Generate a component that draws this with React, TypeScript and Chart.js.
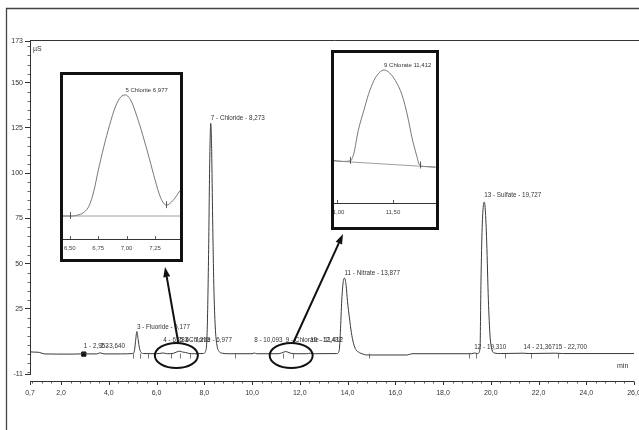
import React, { useEffect, useRef } from "react";
import { Chart, registerables } from "chart.js";

Chart.register(...registerables);

// ---------------- data ----------------
const traceTimes = [
  0.7, 0.9, 1.1, 1.3, 1.8, 2.5, 2.85, 2.953, 3.05, 3.5, 3.64, 3.8, 4.5,
  5.0, 5.07, 5.12, 5.177, 5.23, 5.29, 5.36, 5.45, 6.0, 6.283, 6.45, 6.7, 6.85,
  6.977, 7.1, 7.213, 7.35, 7.6, 7.95, 8.05, 8.12, 8.18, 8.23, 8.273, 8.31,
  8.35, 8.4, 8.46, 8.53, 8.62, 8.75, 9.0, 10.0, 10.093, 10.2, 11.1, 11.25,
  11.412, 11.55, 11.72, 12.3, 12.437, 12.6, 13.55, 13.65, 13.7, 13.76, 13.82,
  13.877, 13.94, 14.0, 14.08, 14.16, 14.25, 14.35, 14.5, 14.65, 14.8, 16.5,
  16.7, 19.2, 19.31, 19.45, 19.55, 19.59, 19.64, 19.69, 19.727, 19.77, 19.83,
  19.9, 19.97, 20.04, 20.15, 20.4, 21.367, 21.6, 22.7, 23.0, 26.0,
];
const traceValues = [
  1.2, 1.1, 0.9, 0.1, 0, 0, 0.1, 0.8, 0.1, 0.1, 0.7, 0.1, 0.1,
  0.3, 1.5, 7, 12.5, 8, 3, 0.8, 0.3, 0.2, 0.6, 0.2, 0.4, 1.2,
  1.6, 1.1, 0.9, 0.4, 0.2, 0.3, 1.5, 12, 55, 108, 127.5, 112,
  75, 38, 15, 5, 1.5, 0.5, 0.2, 0.2, 0.6, 0.2, 0.2, 0.7,
  1.4, 0.8, 0.2, 0.2, 0.5, 0.2, 0.3, 2, 12, 30, 40,
  42, 38, 29, 20, 12, 6, 2.5, 0.8, 0, -0.5, -0.5,
  0.2, 0.2, 0.6, 0.3, 3, 40, 70, 82, 84, 80, 62,
  30, 10, 3, 0.6, 0.3, 0.5, 0.3, 0.5, 0.3, 0.3,
];

const squareTimes = [2.953];
const squareValues = [0];

const yTickValues = [-11, 25, 50, 75, 100, 125, 150, 173];
const xTickValues = [0.7, 2, 4, 6, 8, 10, 12, 14, 16, 18, 20, 22, 24, 26];

const peakTimes = [2.953, 3.64, 5.177, 6.283, 6.977, 7.213, 8.273, 10.093, 11.412, 12.437, 13.877, 19.31, 19.727, 21.367, 22.7];
const peakNames = ["", "", "Fluoride", "", "Chlorite", "", "Chloride", "", "Chlorate", "", "Nitrate", "", "Sulfate", "", ""];
const peakLabelValues = [3.3, 3.3, 14, 6.6, 6.6, 6.6, 129.5, 6.6, 6.6, 6.6, 43.5, 2.7, 87, 2.7, 2.7];

const markerTimes = [5.0, 5.3, 5.65, 6.6, 7.0, 7.4, 9.3, 11.3, 11.7, 12.5, 14.9, 19.1, 19.4, 20.6, 21.7, 22.8];

const ellipseTimes = [6.83, 11.64];

// inset 1 : peak 5 (Chlorite)
const inset1Times = [6.44, 6.52, 6.58, 6.63, 6.67, 6.71, 6.75, 6.8, 6.85, 6.9, 6.95, 6.99, 7.04, 7.09, 7.14, 7.2, 7.25, 7.3, 7.35, 7.41, 7.47];
const inset1Values = [0, 0, 0.02, 0.07, 0.17, 0.4, 0.75, 1.15, 1.5, 1.8, 1.97, 2.0, 1.9, 1.65, 1.35, 0.95, 0.6, 0.3, 0.18, 0.26, 0.42];
const inset1BaseTimes = [6.44, 7.47];
const inset1BaseValues = [0, 0];
const inset1Ticks = [6.5, 6.75, 7.0, 7.25];
const inset1Markers = [6.5, 7.35];

// inset 2 : peak 9 (Chlorate)
const inset2Times = [10.96, 11.05, 11.12, 11.15, 11.19, 11.24, 11.28, 11.33, 11.38, 11.42, 11.47, 11.52, 11.58, 11.63, 11.67, 11.71, 11.74, 11.8, 11.88];
const inset2Values = [0.03, 0.01, 0.02, 0.15, 0.55, 0.9, 1.17, 1.42, 1.56, 1.6, 1.55, 1.42, 1.17, 0.8, 0.42, 0.12, -0.06, -0.08, -0.09];
const inset2BaseTimes = [10.96, 11.88];
const inset2BaseValues = [0.02, -0.09];
const inset2Ticks = [11.0, 11.5];
const inset2Markers = [11.12, 11.74];

// ---------------- layout / style ----------------
const W = 639;
const H = 430;
const FONT = "'Liberation Sans', Arial, sans-serif";
const INSET1 = { left: 60, top: 72, width: 123, height: 190, axisH: 20, xmin: 6.44, xmax: 7.47, ymin: -0.38, ymax: 2.33 };
const INSET2 = { left: 331, top: 50, width: 108, height: 180, axisH: 24, xmin: 10.973, xmax: 11.884, ymin: -0.713, ymax: 1.896 };

const fmt = (v: number, d: number) => v.toFixed(d).replace(".", ",");

function arrow(ctx: CanvasRenderingContext2D, x1: number, y1: number, x2: number, y2: number) {
  const ang = Math.atan2(y2 - y1, x2 - x1);
  const len = 10, half = 3.5;
  const bx = x2 - len * Math.cos(ang);
  const by = y2 - len * Math.sin(ang);
  ctx.beginPath();
  ctx.moveTo(x1, y1);
  ctx.lineTo(bx, by);
  ctx.stroke();
  ctx.beginPath();
  ctx.moveTo(x2, y2);
  ctx.lineTo(bx + half * Math.sin(ang), by - half * Math.cos(ang));
  ctx.lineTo(bx - half * Math.sin(ang), by + half * Math.cos(ang));
  ctx.closePath();
  ctx.fill();
}

const mainDecor = {
  id: "mainDecor",
  afterDraw(chart: any) {
    const ctx: CanvasRenderingContext2D = chart.ctx;
    const xs = chart.scales.x;
    const ys = chart.scales.y;
    const ca = chart.chartArea;
    ctx.save();
    // outer frame
    ctx.strokeStyle = "#444";
    ctx.lineWidth = 1.3;
    ctx.beginPath();
    ctx.moveTo(6.5, H);
    ctx.lineTo(6.5, 8.5);
    ctx.lineTo(W, 8.5);
    ctx.stroke();
    // plot frame top
    ctx.strokeStyle = "#333";
    ctx.lineWidth = 1;
    ctx.beginPath();
    ctx.moveTo(ca.left, ca.top - 0.5);
    ctx.lineTo(W, ca.top - 0.5);
    ctx.stroke();
    // y minor ticks
    ctx.strokeStyle = "#444";
    ctx.lineWidth = 0.8;
    for (let v = -10; v <= 170; v += 5) {
      if (yTickValues.includes(v)) continue;
      const y = Math.round(ys.getPixelForValue(v)) + 0.5;
      ctx.beginPath();
      ctx.moveTo(ca.left - 2.5, y);
      ctx.lineTo(ca.left, y);
      ctx.stroke();
    }
    // x axis line
    const ax = ca.bottom + 7.5;
    ctx.strokeStyle = "#333";
    ctx.lineWidth = 1;
    ctx.beginPath();
    ctx.moveTo(ca.left, ax);
    ctx.lineTo(ca.right, ax);
    ctx.stroke();
    xTickValues.forEach((v) => {
      const x = Math.round(xs.getPixelForValue(v)) + 0.5;
      ctx.beginPath();
      ctx.moveTo(x, ax);
      ctx.lineTo(x, ax + 3.5);
      ctx.stroke();
    });
    ctx.lineWidth = 0.8;
    for (let k = -3; k <= 60; k++) {
      if (k % 5 === 0) continue;
      const v = 2 + 0.4 * k;
      if (v < 0.7 || v > 26) continue;
      const x = Math.round(xs.getPixelForValue(v)) + 0.5;
      ctx.beginPath();
      ctx.moveTo(x, ax);
      ctx.lineTo(x, ax + 2);
      ctx.stroke();
    }
    // unit labels
    ctx.fillStyle = "#333";
    ctx.font = "7px " + FONT;
    ctx.textAlign = "left";
    ctx.textBaseline = "alphabetic";
    ctx.fillText("µS", ca.left + 3, ca.top + 10);
    ctx.fillText("min", 617, ys.getPixelForValue(-7.5));
    // integration markers
    ctx.strokeStyle = "#555";
    ctx.lineWidth = 0.8;
    markerTimes.forEach((t) => {
      const x = Math.round(xs.getPixelForValue(t)) + 0.5;
      const y0 = ys.getPixelForValue(0.3);
      ctx.beginPath();
      ctx.moveTo(x, y0);
      ctx.lineTo(x, y0 + 5);
      ctx.stroke();
    });
    // peak labels
    ctx.fillStyle = "#333";
    ctx.font = "6.3px " + FONT;
    peakTimes.forEach((t, i) => {
      const name = peakNames[i];
      const txt = name ? `${i + 1} - ${name} - ${fmt(t, 3)}` : `${i + 1} - ${fmt(t, 3)}`;
      ctx.fillText(txt, xs.getPixelForValue(t), ys.getPixelForValue(peakLabelValues[i]));
    });
    // ellipses
    ctx.strokeStyle = "#111";
    ctx.fillStyle = "#111";
    ctx.lineWidth = 2;
    const rx = 21.5, ry = 12.5;
    const centers = ellipseTimes.map((t) => ({ x: xs.getPixelForValue(t), y: ys.getPixelForValue(-0.8) }));
    centers.forEach((c) => {
      ctx.beginPath();
      ctx.ellipse(c.x, c.y, rx, ry, 0, 0, Math.PI * 2);
      ctx.stroke();
    });
    // arrows to insets
    arrow(ctx, centers[0].x + 2, centers[0].y - ry, INSET1.left + 105, INSET1.top + INSET1.height + 5);
    arrow(ctx, centers[1].x + 2, centers[1].y - ry, INSET2.left + 12, INSET2.top + INSET2.height + 4);
    ctx.restore();
  },
};

function makeInset(
  canvas: HTMLCanvasElement,
  cfg: any,
  times: number[],
  values: number[],
  baseTimes: number[],
  baseValues: number[],
  ticks: number[],
  markers: number[],
  label: string
) {
  const decor = {
    id: "insetDecor",
    afterDraw(chart: any) {
      const ctx: CanvasRenderingContext2D = chart.ctx;
      const xs = chart.scales.x;
      const ys = chart.scales.y;
      const ca = chart.chartArea;
      ctx.save();
      ctx.strokeStyle = "#333";
      ctx.lineWidth = 0.8;
      ticks.forEach((v) => {
        const x = Math.round(xs.getPixelForValue(v)) + 0.5;
        ctx.beginPath();
        ctx.moveTo(x, ca.bottom - 3);
        ctx.lineTo(x, ca.bottom);
        ctx.stroke();
      });
      markers.forEach((t) => {
        let best = 0;
        times.forEach((tt, i) => {
          if (Math.abs(tt - t) < Math.abs(times[best] - t)) best = i;
        });
        const x = Math.round(xs.getPixelForValue(t)) + 0.5;
        const y = ys.getPixelForValue(values[best]);
        ctx.beginPath();
        ctx.moveTo(x, y - 4);
        ctx.lineTo(x, y + 3);
        ctx.stroke();
      });
      let imax = 0;
      values.forEach((v, i) => {
        if (v > values[imax]) imax = i;
      });
      ctx.fillStyle = "#333";
      ctx.font = "6px " + FONT;
      ctx.textAlign = "left";
      ctx.fillText(label, xs.getPixelForValue(times[imax]), ys.getPixelForValue(values[imax]) - 3);
      ctx.restore();
    },
  };
  return new Chart(canvas, {
    type: "line",
    data: {
      datasets: [
        {
          data: baseTimes.map((t, i) => ({ x: t, y: baseValues[i] })),
          borderColor: "#888",
          borderWidth: 0.8,
          pointRadius: 0,
          fill: false,
        },
        {
          data: times.map((t, i) => ({ x: t, y: values[i] })),
          borderColor: "#6a6a6a",
          borderWidth: 0.9,
          pointRadius: 0,
          cubicInterpolationMode: "monotone",
          fill: false,
        },
      ],
    },
    options: {
      responsive: false,
      animation: false,
      events: [],
      layout: { padding: 0 },
      plugins: { legend: { display: false }, tooltip: { enabled: false } },
      scales: {
        x: {
          type: "linear",
          min: cfg.xmin,
          max: cfg.xmax,
          afterBuildTicks: (s: any) => {
            s.ticks = ticks.map((v) => ({ value: v }));
          },
          afterFit: (s: any) => {
            s.height = cfg.axisH;
            s.paddingLeft = 0;
            s.paddingRight = 0;
          },
          grid: { display: false, drawTicks: false },
          border: { display: true, color: "#333", width: 1 },
          ticks: {
            font: { size: 6, family: FONT },
            color: "#444",
            padding: 6,
            maxRotation: 0,
            autoSkip: false,
            callback: (v: any) => fmt(Number(v), 2),
          },
        },
        y: { display: false, min: cfg.ymin, max: cfg.ymax },
      },
    },
    plugins: [decor],
  });
}

export default function App() {
  const mainRef = useRef<HTMLCanvasElement>(null);
  const in1Ref = useRef<HTMLCanvasElement>(null);
  const in2Ref = useRef<HTMLCanvasElement>(null);

  useEffect(() => {
    document.body.style.margin = "0";
    Chart.defaults.font.family = FONT;
    const charts: Chart[] = [];
    if (mainRef.current) {
      charts.push(
        new Chart(mainRef.current, {
          type: "line",
          data: {
            datasets: [
              {
                data: traceTimes.map((t, i) => ({ x: t, y: traceValues[i] })),
                borderColor: "#3a3a3a",
                borderWidth: 1,
                pointRadius: 0,
                cubicInterpolationMode: "monotone",
                fill: false,
              },
              {
                type: "scatter",
                data: squareTimes.map((t, i) => ({ x: t, y: squareValues[i] })),
                pointStyle: "rect",
                pointRadius: 3,
                backgroundColor: "#111",
                borderColor: "#111",
              } as any,
            ],
          },
          options: {
            responsive: false,
            animation: false,
            events: [],
            layout: { padding: { top: 41, right: 3, left: 0, bottom: 0 } },
            plugins: { legend: { display: false }, tooltip: { enabled: false } },
            scales: {
              x: {
                type: "linear",
                min: 0.7,
                max: 26,
                afterBuildTicks: (s: any) => {
                  s.ticks = xTickValues.map((v) => ({ value: v }));
                },
                afterFit: (s: any) => {
                  s.height = 56;
                  s.paddingLeft = 0;
                  s.paddingRight = 0;
                },
                grid: { display: false, drawTicks: false },
                border: { display: false },
                ticks: {
                  font: { size: 7, family: FONT },
                  color: "#333",
                  padding: 15,
                  maxRotation: 0,
                  autoSkip: false,
                  callback: (v: any) => fmt(Number(v), 1),
                },
              },
              y: {
                type: "linear",
                min: -11,
                max: 173,
                afterBuildTicks: (s: any) => {
                  s.ticks = yTickValues.map((v) => ({ value: v }));
                },
                afterFit: (s: any) => {
                  s.width = 30;
                  s.paddingTop = 0;
                  s.paddingBottom = 0;
                },
                grid: { drawOnChartArea: false, drawTicks: true, tickLength: 5, color: "#333" },
                border: { display: true, color: "#333", width: 1 },
                ticks: {
                  font: { size: 7, family: FONT },
                  color: "#333",
                  padding: 2,
                  autoSkip: false,
                  callback: (v: any) => String(v),
                },
              },
            },
          },
          plugins: [mainDecor],
        })
      );
    }
    if (in1Ref.current) {
      charts.push(
        makeInset(in1Ref.current, INSET1, inset1Times, inset1Values, inset1BaseTimes, inset1BaseValues, inset1Ticks, inset1Markers, "5 Chlorite 6,977")
      );
    }
    if (in2Ref.current) {
      charts.push(
        makeInset(in2Ref.current, INSET2, inset2Times, inset2Values, inset2BaseTimes, inset2BaseValues, inset2Ticks, inset2Markers, "9 Chlorate 11,412")
      );
    }
    return () => charts.forEach((c) => c.destroy());
  }, []);

  const boxStyle = (b: any): React.CSSProperties => ({
    position: "absolute",
    left: b.left,
    top: b.top,
    width: b.width,
    height: b.height,
    border: "3px solid #111",
    boxSizing: "border-box",
    background: "#fff",
  });

  return (
    <div style={{ position: "relative", width: W, height: H, overflow: "hidden", background: "#fff" }}>
      <canvas ref={mainRef} width={W} height={H} style={{ position: "absolute", left: 0, top: 0 }} />
      <div style={boxStyle(INSET1)}>
        <canvas ref={in1Ref} width={INSET1.width - 6} height={INSET1.height - 6} style={{ display: "block" }} />
      </div>
      <div style={boxStyle(INSET2)}>
        <canvas ref={in2Ref} width={INSET2.width - 6} height={INSET2.height - 6} style={{ display: "block" }} />
      </div>
    </div>
  );
}
